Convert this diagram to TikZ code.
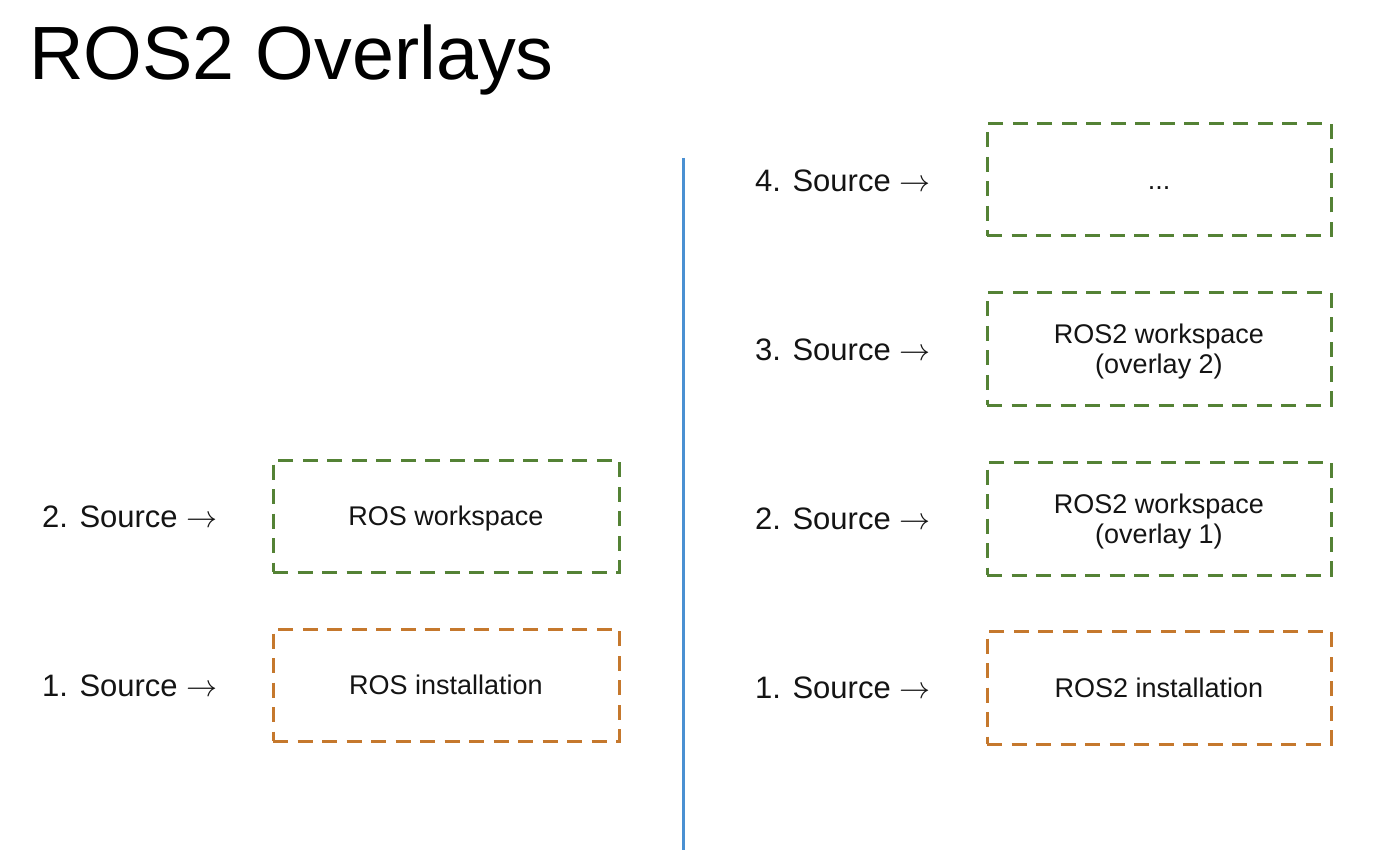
\documentclass[tikz,border=0pt]{standalone}
\usepackage{graphicx}
\usepackage{fontspec}
\setmainfont{Liberation Sans}
\definecolor{wsgreen}{RGB}{84,130,53}
\definecolor{instorange}{RGB}{197,120,45}
\definecolor{divblue}{RGB}{74,144,210}
\definecolor{ink}{RGB}{20,20,20}
\newcommand{\bigarrow}{{\fontsize{10}{12}\selectfont\scalebox{3.1}{$\rightarrow$}}}
\begin{document}
\begin{tikzpicture}[x=1pt,y=-1pt,
  wsbox/.style={draw=#1, line width=3pt, dash pattern=on 15pt off 9.5pt, minimum width=346pt, inner sep=0pt, outer sep=0pt,
     text=ink, font=\fontsize{27}{30}\selectfont, align=center, text height=19.5pt, text depth=0pt},
  twoline/.style={text height=49.5pt, text depth=0pt},
  srclabel/.style={anchor=base west, inner sep=0pt, text=ink, font=\fontsize{31}{37}\selectfont},
]
\useasboundingbox (0,0) rectangle (1390,850);
\fill[white] (0,0) rectangle (1390,850);

\node[anchor=base west, inner sep=0pt, text=black, font=\fontsize{75.5}{90}\selectfont] (title) at (29,80) {ROS2 Overlays};

% divider
\coordinate (dtop) at (683,158);
\coordinate (dbot) at (683,850);
\draw[divblue, line width=3pt] (dtop) -- (dbot);

% left column
\node[wsbox=wsgreen, minimum height=112pt] (lws) at (446,516) {ROS workspace};
\node[wsbox=instorange, minimum height=112pt] (lin) at (446,685) {ROS installation};
\node[srclabel] (l2) at (42,527.5) {2. Source \bigarrow};
\node[srclabel] (l1) at (42,696.5) {1. Source \bigarrow};

% right column
\node[wsbox=wsgreen, minimum width=344pt, minimum height=112pt] (r4) at (1159,180) {...};
\node[wsbox=wsgreen, minimum width=344pt, minimum height=112pt, twoline] (r3) at (1159,349) {ROS2 workspace\\(overlay 2)};
\node[wsbox=wsgreen, minimum width=344pt, minimum height=113pt, twoline] (r2) at (1159,518.5) {ROS2 workspace\\(overlay 1)};
\node[wsbox=instorange, minimum width=344pt, minimum height=113pt] (r1) at (1159,687.5) {ROS2 installation};

\node[srclabel] (s4) at (755,191.5) {4. Source \bigarrow};
\node[srclabel] (s3) at (755,360.5) {3. Source \bigarrow};
\node[srclabel] (s2) at (755,529.5) {2. Source \bigarrow};
\node[srclabel] (s1) at (755,698.5) {1. Source \bigarrow};
\end{tikzpicture}
\end{document}
